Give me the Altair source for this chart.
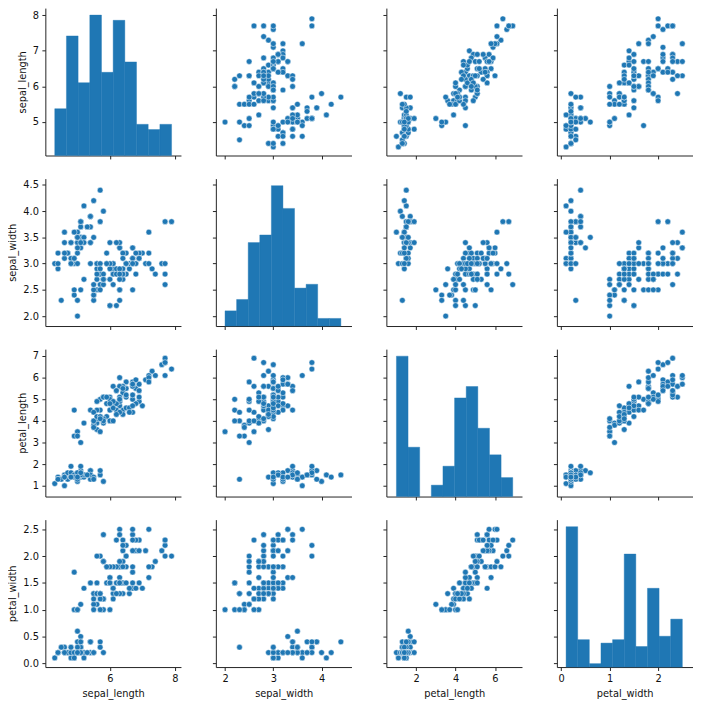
import altair as alt
import numpy as np
import pandas as pd

# Iris measurements (150 flowers)
sepal_length = [
    5.1, 4.9, 4.7, 4.6, 5.0, 5.4, 4.6, 5.0, 4.4, 4.9, 5.4, 4.8, 4.8, 4.3, 5.8, 5.7, 5.4, 5.1, 5.7, 5.1,
    5.4, 5.1, 4.6, 5.1, 4.8, 5.0, 5.0, 5.2, 5.2, 4.7, 4.8, 5.4, 5.2, 5.5, 4.9, 5.0, 5.5, 4.9, 4.4, 5.1,
    5.0, 4.5, 4.4, 5.0, 5.1, 4.8, 5.1, 4.6, 5.3, 5.0,
    7.0, 6.4, 6.9, 5.5, 6.5, 5.7, 6.3, 4.9, 6.6, 5.2, 5.0, 5.9, 6.0, 6.1, 5.6, 6.7, 5.6, 5.8, 6.2, 5.6,
    5.9, 6.1, 6.3, 6.1, 6.4, 6.6, 6.8, 6.7, 6.0, 5.7, 5.5, 5.5, 5.8, 6.0, 5.4, 6.0, 6.7, 6.3, 5.6, 5.5,
    5.5, 6.1, 5.8, 5.0, 5.6, 5.7, 5.7, 6.2, 5.1, 5.7,
    6.3, 5.8, 7.1, 6.3, 6.5, 7.6, 4.9, 7.3, 6.7, 7.2, 6.5, 6.4, 6.8, 5.7, 5.8, 6.4, 6.5, 7.7, 7.7, 6.0,
    6.9, 5.6, 7.7, 6.3, 6.7, 7.2, 6.2, 6.1, 6.4, 7.2, 7.4, 7.9, 6.4, 6.3, 6.1, 7.7, 6.3, 6.4, 6.0, 6.9,
    6.7, 6.9, 5.8, 6.8, 6.7, 6.7, 6.3, 6.5, 6.2, 5.9,
]
sepal_width = [
    3.5, 3.0, 3.2, 3.1, 3.6, 3.9, 3.4, 3.4, 2.9, 3.1, 3.7, 3.4, 3.0, 3.0, 4.0, 4.4, 3.9, 3.5, 3.8, 3.8,
    3.4, 3.7, 3.6, 3.3, 3.4, 3.0, 3.4, 3.5, 3.4, 3.2, 3.1, 3.4, 4.1, 4.2, 3.1, 3.2, 3.5, 3.6, 3.0, 3.4,
    3.5, 2.3, 3.2, 3.5, 3.8, 3.0, 3.8, 3.2, 3.7, 3.3,
    3.2, 3.2, 3.1, 2.3, 2.8, 2.8, 3.3, 2.4, 2.9, 2.7, 2.0, 3.0, 2.2, 2.9, 2.9, 3.1, 3.0, 2.7, 2.2, 2.5,
    3.2, 2.8, 2.5, 2.8, 2.9, 3.0, 2.8, 3.0, 2.9, 2.6, 2.4, 2.4, 2.7, 2.7, 3.0, 3.4, 3.1, 2.3, 3.0, 2.5,
    2.6, 3.0, 2.6, 2.3, 2.7, 3.0, 2.9, 2.9, 2.5, 2.8,
    3.3, 2.7, 3.0, 2.9, 3.0, 3.0, 2.5, 2.9, 2.5, 3.6, 3.2, 2.7, 3.0, 2.5, 2.8, 3.2, 3.0, 3.8, 2.6, 2.2,
    3.2, 2.8, 2.8, 2.7, 3.3, 3.2, 2.8, 3.0, 2.8, 3.0, 2.8, 3.8, 2.8, 2.8, 2.6, 3.0, 3.4, 3.1, 3.0, 3.1,
    3.1, 3.1, 2.7, 3.2, 3.3, 3.0, 2.5, 3.0, 3.4, 3.0,
]
petal_length = [
    1.4, 1.4, 1.3, 1.5, 1.4, 1.7, 1.4, 1.5, 1.4, 1.5, 1.5, 1.6, 1.4, 1.1, 1.2, 1.5, 1.3, 1.4, 1.7, 1.5,
    1.7, 1.5, 1.0, 1.7, 1.9, 1.6, 1.6, 1.5, 1.4, 1.6, 1.6, 1.5, 1.5, 1.4, 1.5, 1.2, 1.3, 1.4, 1.3, 1.5,
    1.3, 1.3, 1.3, 1.6, 1.9, 1.4, 1.6, 1.4, 1.5, 1.4,
    4.7, 4.5, 4.9, 4.0, 4.6, 4.5, 4.7, 3.3, 4.6, 3.9, 3.5, 4.2, 4.0, 4.7, 3.6, 4.4, 4.5, 4.1, 4.5, 3.9,
    4.8, 4.0, 4.9, 4.7, 4.3, 4.4, 4.8, 5.0, 4.5, 3.5, 3.8, 3.7, 3.9, 5.1, 4.5, 4.5, 4.7, 4.4, 4.1, 4.0,
    4.4, 4.6, 4.0, 3.3, 4.2, 4.2, 4.2, 4.3, 3.0, 4.1,
    6.0, 5.1, 5.9, 5.6, 5.8, 6.6, 4.5, 6.3, 5.8, 6.1, 5.1, 5.3, 5.5, 5.0, 5.1, 5.3, 5.5, 6.7, 6.9, 5.0,
    5.7, 4.9, 6.7, 4.9, 5.7, 6.0, 4.8, 4.9, 5.6, 5.8, 6.1, 6.4, 5.6, 5.1, 5.6, 6.1, 5.6, 5.5, 4.8, 5.4,
    5.6, 5.1, 5.1, 5.9, 5.7, 5.2, 5.0, 5.2, 5.4, 5.1,
]
petal_width = [
    0.2, 0.2, 0.2, 0.2, 0.2, 0.4, 0.3, 0.2, 0.2, 0.1, 0.2, 0.2, 0.1, 0.1, 0.2, 0.4, 0.4, 0.3, 0.3, 0.3,
    0.2, 0.4, 0.2, 0.5, 0.2, 0.2, 0.4, 0.2, 0.2, 0.2, 0.2, 0.4, 0.1, 0.2, 0.2, 0.2, 0.2, 0.1, 0.2, 0.2,
    0.3, 0.3, 0.2, 0.6, 0.4, 0.3, 0.2, 0.2, 0.2, 0.2,
    1.4, 1.5, 1.5, 1.3, 1.5, 1.3, 1.6, 1.0, 1.3, 1.4, 1.0, 1.5, 1.0, 1.4, 1.3, 1.4, 1.5, 1.0, 1.5, 1.1,
    1.8, 1.3, 1.5, 1.2, 1.3, 1.4, 1.4, 1.7, 1.5, 1.0, 1.1, 1.0, 1.2, 1.6, 1.5, 1.6, 1.5, 1.3, 1.3, 1.3,
    1.2, 1.4, 1.2, 1.0, 1.3, 1.2, 1.3, 1.3, 1.1, 1.3,
    2.5, 1.9, 2.1, 1.8, 2.2, 2.1, 1.7, 1.8, 1.8, 2.5, 2.0, 1.9, 2.1, 2.0, 2.4, 2.3, 1.8, 2.2, 2.3, 1.5,
    2.3, 2.0, 2.0, 1.8, 2.1, 1.8, 1.8, 1.8, 2.1, 1.6, 1.9, 2.0, 2.2, 1.5, 1.4, 2.3, 2.4, 1.8, 1.8, 2.1,
    2.4, 2.3, 1.9, 2.3, 2.5, 2.3, 1.9, 2.0, 2.3, 1.8,
]

variables = ["sepal_length", "sepal_width", "petal_length", "petal_width"]

# axis tick labels
y_ticks = {
    "sepal_length": [5, 6, 7, 8],
    "sepal_width": [2.0, 2.5, 3.0, 3.5, 4.0, 4.5],
    "petal_length": [1, 2, 3, 4, 5, 6, 7],
    "petal_width": [0.0, 0.5, 1.0, 1.5, 2.0, 2.5],
}
y_formats = {"sepal_length": "d", "sepal_width": ".1f", "petal_length": "d", "petal_width": ".1f"}
x_ticks = {
    "sepal_length": [6, 8],
    "sepal_width": [2, 3, 4],
    "petal_length": [2, 4, 6],
    "petal_width": [0, 1, 2],
}
# axis limits
x_domains = {
    "sepal_length": [4.01, 8.19],
    "sepal_width": [1.81, 4.62],
    "petal_length": [0.49, 7.37],
    "petal_width": [-0.09, 2.71],
}
y_domains = {
    "sepal_length": [4.06, 8.2],
    "sepal_width": [1.81, 4.62],
    "petal_length": [0.50, 7.32],
    "petal_width": [-0.07, 2.68],
}
N_BINS = 10

df = pd.DataFrame({
    "sepal_length": sepal_length,
    "sepal_width": sepal_width,
    "petal_length": petal_length,
    "petal_width": petal_width,
})

BLUE = "#1f77b4"
W, H = 138, 150


def x_enc(field, cv, r):
    return alt.X(
        f"{field}:Q",
        scale=alt.Scale(domain=x_domains[cv], nice=False, zero=False),
        axis=alt.Axis(values=x_ticks[cv], labels=(r == 3), title=(cv if r == 3 else None),
                      format="d", grid=False),
    )


def y_enc(rv, c):
    return alt.Y(
        f"{rv}:Q",
        scale=alt.Scale(domain=y_domains[rv], nice=False, zero=False),
        axis=alt.Axis(values=y_ticks[rv], labels=(c == 0), title=(rv if c == 0 else None),
                      format=y_formats[rv], grid=False),
    )


def panel(r, c):
    rv, cv = variables[r], variables[c]
    if r != c:
        return alt.Chart(df).mark_circle(
            size=34, color=BLUE, opacity=1, stroke="white", strokeWidth=0.5
        ).encode(x=x_enc(cv, cv, r), y=y_enc(rv, c)).properties(width=W, height=H)
    vals = np.array(df[cv])
    mn, mx = float(vals.min()), float(vals.max())
    step = (mx - mn) / N_BINS
    maxc = int(np.histogram(vals, bins=N_BINS)[0].max())
    bname, nname = f"bin_{cv}", f"n_{cv}"
    idx_expr = f"min(floor((datum['{cv}'] - {mn}) / {step} + 1e-9), {N_BINS - 1})"
    axis_layer = alt.Chart(df).mark_point(opacity=0).encode(x=x_enc(cv, cv, r), y=y_enc(rv, c))
    bars = alt.Chart(df).transform_calculate(
        **{bname: f"{mn} + {step} * {idx_expr}"}
    ).transform_calculate(
        **{bname + "_end": f"datum['{bname}'] + {step}"}
    ).transform_aggregate(
        **{nname: "count()"}, groupby=[bname, bname + "_end"]
    ).mark_rect(color=BLUE, opacity=1, stroke=BLUE, strokeWidth=0.4).encode(
        x=x_enc(bname, cv, r),
        x2=f"{bname}_end:Q",
        y=alt.Y(f"{nname}:Q", scale=alt.Scale(domain=[0, maxc * 1.05], nice=False, zero=True),
                axis=None),
        y2=alt.datum(0),
    )
    return alt.layer(axis_layer, bars).resolve_scale(y="independent").properties(width=W, height=H)


rows = [alt.hconcat(*[panel(r, c) for c in range(4)], spacing=31.5) for r in range(4)]

chart = alt.vconcat(*rows, spacing=19.5).properties(
    padding={"left": 0, "top": -6, "right": 0, "bottom": 0}
).configure_view(stroke=None).configure_axis(
    domainColor="#222222", domainWidth=1, tickColor="#222222", tickWidth=1, tickSize=3.5,
    labelFont="DejaVu Sans", labelFontSize=10, labelColor="#111111", labelPadding=3.5,
    labelFlush=False,
    titleFont="DejaVu Sans", titleFontSize=10, titleFontWeight="normal", titleColor="#111111",
    titlePadding=5, grid=False,
)

chart.save("out.html", embed_options={"renderer": "svg", "actions": False})
